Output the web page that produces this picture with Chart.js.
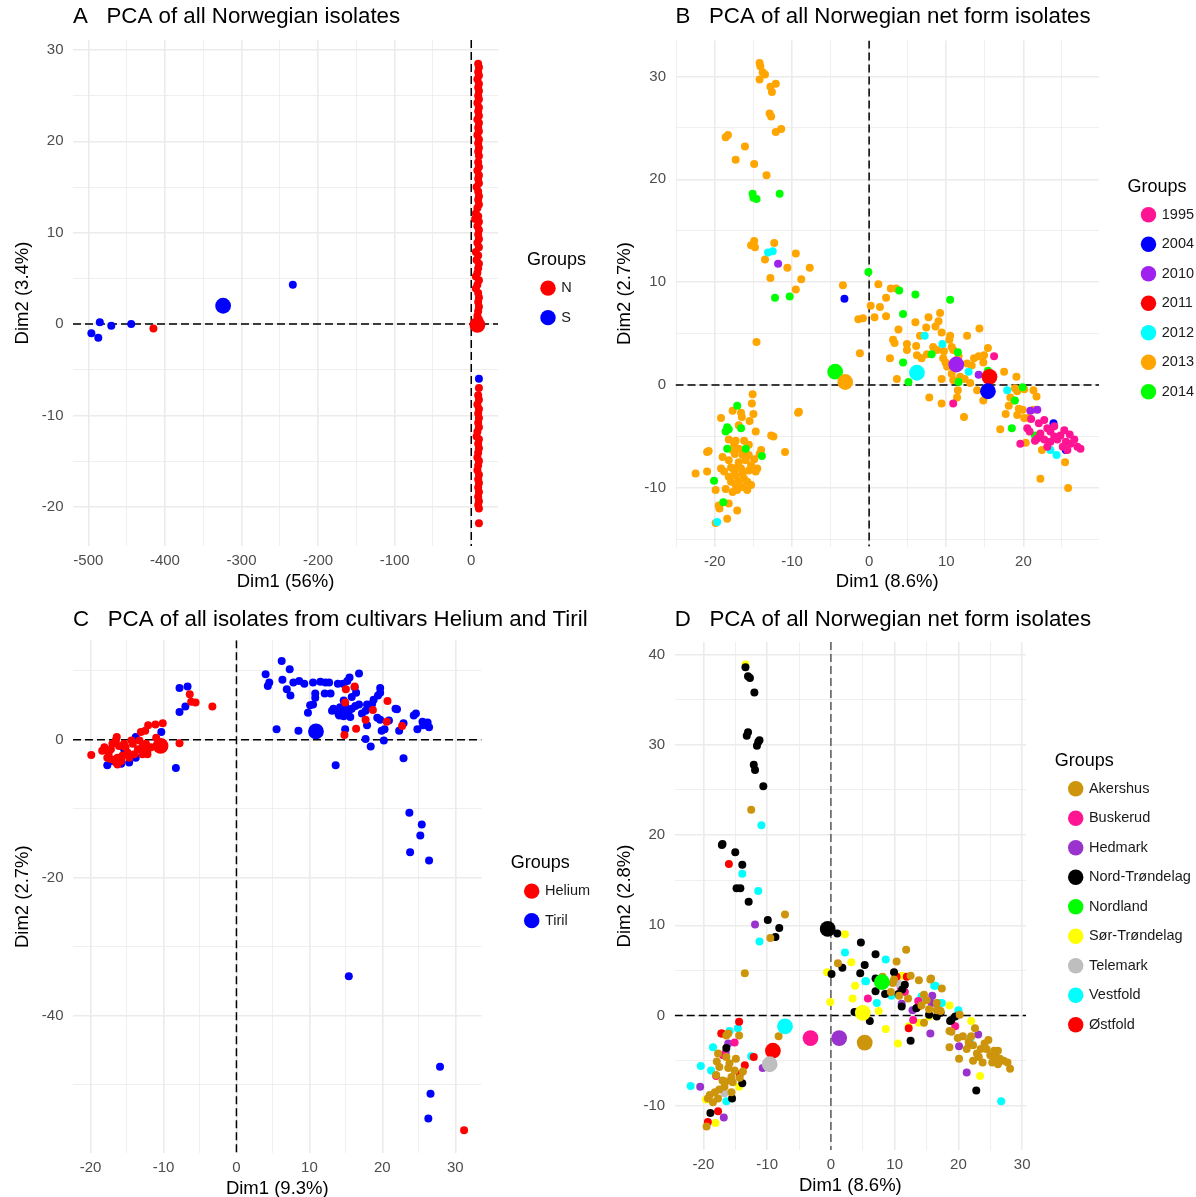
<!DOCTYPE html>
<html><head><meta charset="utf-8">
<script src="https://cdn.jsdelivr.net/npm/chart.js@4.4.1/dist/chart.umd.min.js"></script>
<style>
html,body{margin:0;padding:0;background:#fff;overflow:hidden;width:1196px;height:1197px;position:relative}
canvas{position:absolute;display:block}
</style></head><body>
<canvas id="cA" width="598" height="598" style="left:0px;top:0px"></canvas>
<canvas id="cB" width="598" height="598" style="left:598px;top:0px"></canvas>
<canvas id="cC" width="598" height="599" style="left:0px;top:598px"></canvas>
<canvas id="cD" width="598" height="599" style="left:598px;top:598px"></canvas>
<script>
// ---------------- Panel A data ----------------
const A_GROUPS = ['N', 'S'];
const A_N = [
[9,28.5],[10,28.1],[9,27.6],[10,27.2],[8,26.8],[10,26.3],[9,25.9],[10,25.5],[9,25.0],[10,24.6],[8,24.2],[10,23.7],[9,23.3],[10,22.8],[8,22.4],[10,22.0],[9,21.5],[10,21.1],[8,20.7],[10,20.2],[9,19.8],[10,19.3],[9,18.9],[10,18.4],
[9,17.7],[10,17.2],[8,16.8],[10,16.3],[9,15.9],[10,15.4],[7,15.0],[9,14.5],[10,14.0],[9,13.6],[10,13.1],[8,12.7],[6,12.1],[9,11.8],[5,11.5],[10,11.2],[8,10.7],[10,10.3],[9,9.8],[10,9.3],[8,8.9],[10,8.4],[6,7.9],[9,7.5],[7,7.0],[10,6.6],[9,6.1],[8,5.6],[6,5.2],[10,4.8],[8,4.3],[6,3.9],[9,3.4],[10,2.9],[9,2.4],[10,1.9],[9,1.4],[8,0.9],[10,0.5],
[10,-7.0],[9,-7.8],[10,-8.3],[8,-8.8],[10,-9.3],[9,-9.8],[10,-10.3],[9,-10.8],[10,-11.3],[8,-11.8],[7,-12.3],[10,-12.6],[9,-13.1],[10,-13.6],[9,-14.1],[8,-14.6],[10,-15.0],[9,-15.5],[8,-16.0],[10,-16.5],[9,-17.0],[10,-17.4],[9,-17.9],[10,-18.4],[9,-18.9],[10,-19.4],[9,-19.8],[10,-20.2],[10,-21.8],
[-415,-0.5]
];
const A_S = [[-496,-1.0],[-487,-1.5],[-485,0.2],[-470,-0.2],[-444,0.0],[-233,4.3],[10,-6.0]];
const A_MEANS = [[8,-0.1],[-324,2.0]];
const A_X_MAJOR = [-500,-400,-300,-200,-100,0];
const A_X_MINOR = [-450,-350,-250,-150,-50];
const A_Y_MAJOR = [-20,-10,0,10,20,30];
const A_Y_MINOR = [-15,-5,5,15,25];

// ---------------- Panel B data ----------------
const B_GROUPS = ['1995','2004','2010','2011','2012','2013','2014'];
const B_1995 = [[16.2,2.8],[10.9,-1.8],[20.5,-4.2],[22.0,-3.7],[22.7,-3.4],[23.1,-4.2],[22.2,-4.7],[23.5,-4.5],[24.0,-5.0],[22.7,-5.3],[24.4,-5.3],[24.8,-4.9],[25.3,-4.4],[25.5,-5.5],[26.1,-5.7],[26.6,-5.3],[27.0,-6.0],[27.4,-6.2],[25.1,-6.0],[25.7,-6.3],[23.5,-5.5],[21.8,-5.2],[19.6,-5.7],[23.1,-6.0],[21.0,-3.3],[24.0,-4.0],[26.0,-4.8],[20.8,-4.5],[21.5,-5.4]];
const B_2004 = [[-3.2,8.4],[23.9,-3.7],[25.5,-6.3]];
const B_2010 = [[-11.8,11.8],[14.2,1.0],[20.9,-2.5],[21.8,-2.4]];
const B_2011 = [[15.5,1.0]];
const B_2012 = [[-13.1,12.9],[-12.5,13.0],[7.2,4.8],[9.5,4.0],[12.9,1.3],[17.9,-0.5],[23.5,-6.3],[24.3,-6.8],[-19.7,-13.3]];
const B_2013 = [
[-14.2,31.3],[-14.1,31.0],[-13.8,30.4],[-13.5,30.2],[-14.2,29.7],[-12.8,29.0],[-12.1,29.3],[-12.6,28.5],[-12.9,26.4],[-12.7,26.1],[-12.1,24.6],[-11.4,24.9],[-18.6,24.1],[-18.3,24.3],[-16.1,23.2],[-17.3,21.9],[-14.9,21.5],[-13.3,20.4],
[-15.3,13.6],[-14.9,14.0],[-14.8,13.4],[-12.3,13.8],[-13.5,12.2],[-9.5,12.8],[-10.6,11.4],[-7.7,11.4],[-12.8,10.4],[-8.8,10.3],[-9.5,9.3],
[-14.6,4.2],[-9.2,-2.7],[-1.2,3.1],
[-3.4,9.7],[1.2,9.8],[2.8,9.4],[3.5,9.4],[2.2,8.5],[0.2,7.7],[1.4,7.6],[-1.4,6.4],[-0.8,6.5],[0.7,6.6],[2.2,6.7],
[6.0,6.1],[7.7,6.6],[9.2,7.0],[9.0,6.2],[7.4,5.6],[8.6,5.7],[3.8,5.4],[6.6,4.8],[9.4,5.1],[10.5,4.8],[10.4,4.4],[14.3,5.5],[12.7,4.8],
[3.1,4.4],[3.3,4.1],[4.9,4.0],[6.1,3.8],[4.9,3.4],[8.3,3.7],[8.8,3.4],[9.7,3.3],[10.7,3.7],[10.9,3.4],[11.6,2.8],[6.2,2.9],[6.8,2.6],[7.5,3.0],[2.7,2.6],[9.6,2.6],[9.9,2.2],[13.6,2.6],[14.2,2.8],[14.9,2.9],[15.4,3.6],[14.8,2.2],[12.7,2.1],[13.3,1.9],
[3.6,0.6],[9.4,0.6],[10.1,1.8],[10.7,1.1],[10.9,0.5],[11.8,0.8],[12.4,0.6],[13.1,0.2],[14.0,-0.5],[14.8,-1.5],[11.5,-0.5],[11.4,-1.2],[7.8,-1.2],[9.4,-1.8],[12.3,-3.1],
[17.5,1.3],[19.1,0.8],[18.9,-0.3],[19.2,-0.6],[20.1,-0.4],[21.3,-0.5],[21.7,-1.1],[18.3,-1.2],[18.1,-2.0],[18.8,-1.5],[17.7,-2.8],[19.4,-2.3],[19.9,-2.4],[19.2,-2.9],[20.1,-3.2],[20.7,-3.2],[21.3,-2.4],[17.0,-4.3],[20.3,-5.6],[22.4,-6.3],[25.4,-7.5],[22.2,-9.1],[25.8,-10.0],
[-15.1,-0.9],[-15.2,-1.8],[-17.7,-2.5],[-16.6,-2.7],[-16.5,-3.1],[-15.0,-2.8],[-19.2,-3.2],[-15.5,-3.5],[-9.1,-2.6],[-16.9,-3.9],[-14.7,-4.5],[-12.7,-4.9],[-12.4,-5.0],[-18.2,-5.3],[-17.3,-5.4],[-16.2,-5.4],[-15.6,-5.8],[-17.5,-5.8],[-16.9,-6.2],[-17.4,-6.7],[-16.4,-6.8],[-14.0,-6.3],[-14.2,-6.7],[-20.8,-6.4],[-10.9,-6.5],[-19.0,-7.0],[-18.2,-7.3],[-17.9,-8.0],[-19.2,-8.1],[-16.9,-7.5],[-16.0,-7.3],[-15.3,-7.8],[-14.9,-7.2],[-14.5,-8.1],[-14.7,-8.4],[-15.6,-8.3],[-16.4,-8.6],[-22.5,-8.6],[-21.0,-8.4],[-18.8,-8.4],[-18.2,-8.9],[-17.3,-8.8],[-16.9,-9.3],[-16.2,-9.1],[-15.8,-9.4],[-19.9,-10.2],[-18.6,-10.1],[-17.7,-10.4],[-17.1,-10.2],[-15.8,-10.2],[-15.3,-9.7],[-19.5,-11.7],[-18.2,-11.5],[-19.4,-12.0],[-17.1,-12.2],[-18.4,-13.0],[-19.9,-13.4],[-17.5,-8.3],[-17.1,-8.0],[-16.6,-8.1],[-17.9,-9.4],[-17.3,-9.7],[-16.4,-9.9],[-17.7,-6.3],[-16.2,-6.5],[-15.6,-6.8],[-21.0,-6.5]
];
const B_2014 = [[-15.1,18.6],[-15.0,18.2],[-14.6,18.1],[-11.6,18.6],[-12.2,8.5],[-10.3,8.6],[-0.1,11.0],[3.9,9.2],[6.0,8.8],[10.5,8.3],[4.4,6.9],[11.5,3.2],[4.4,2.2],[5.1,0.3],[11.6,0.3],[15.4,1.4],[19.9,-0.2],[18.9,-1.5],[18.5,-4.2],[21.5,-4.9],[8.1,3.0],[-17.1,-2.0],[-18.4,-4.1],[-18.2,-4.3],[-18.6,-4.5],[-16.6,-4.2],[-18.4,-6.2],[-16.0,-6.2],[-13.9,-6.9],[-20.1,-9.3],[-18.9,-11.4]];
const B_MEANS = [[null,null],[15.4,-0.6],[11.3,2.0],[15.6,0.8],[6.2,1.2],[-3.1,0.3],[-4.4,1.3]];
const B_X_MAJOR = [-20,-10,0,10,20];
const B_X_MINOR = [-25,-15,-5,5,15,25];
const B_Y_MAJOR = [-10,0,10,20,30];
const B_Y_MINOR = [-15,-5,5,15,25];

// ---------------- Panel C data ----------------
const C_GROUPS = ['Helium','Tiril'];
const C_HELIUM = [[-19.9,-2.2],[-6.4,6.6],[-6.2,5.5],[-5.6,5.4],[-3.3,4.8],[-10.1,2.4],[-11.1,2.2],[-12.1,2.1],[-13.1,1.1],[-12.5,1.3],[-11.0,0.3],[-7.8,-0.5],[-16.5,0.0],[-18.1,-1.1],[-18.4,-1.6],[-17.5,-1.9],[-17.0,-0.6],[-16.1,-0.9],[-15.2,-1.1],[-14.2,-0.6],[-13.3,-0.1],[-12.9,-1.1],[-12.2,-1.6],[-14.0,-2.1],[-14.7,-2.6],[-15.6,-2.3],[-16.3,-2.6],[-17.2,-2.8],[-17.7,-2.6],[-16.5,-3.3],[-15.8,-3.1],[-14.9,-1.9],[-13.5,-1.4],[-12.4,-0.6],[-11.7,-1.1],[-12.9,-2.1],[-12.2,-2.1],[-15.4,-0.6],[-14.4,-0.1],[-17.2,-1.4],[-16.4,0.4],[-16.3,-3.6],
[15.0,7.3],[16.2,7.7],[14.9,5.4],[20.7,5.6],[18.7,4.3],[17.7,2.9],[20.6,2.6],[16.4,1.6],[22.7,2.0],[14.8,0.7],[31.2,-56.6]];
const C_TIRIL = [[-7.8,7.5],[-6.7,7.7],[-7.8,4.0],[-7.0,4.8],[-10.3,1.1],[-8.3,-4.1],[-17.7,-3.7],[-15.8,-3.5],[-13.8,-2.6],[-12.2,-1.2],[-13.8,0.4],[-15.4,-1.4],[-17.0,-3.1],[-14.7,-3.3],
[6.2,11.4],[7.3,10.2],[4.0,9.5],[4.5,8.3],[4.3,7.8],[6.3,8.7],[6.9,7.3],[7.4,6.4],[7.8,8.3],[8.6,8.5],[9.3,8.1],[10.5,8.3],[11.5,8.4],[12.2,8.3],[12.7,8.3],[13.9,8.1],[14.6,8.1],[15.2,8.5],[15.5,9.0],[16.8,9.6],[10.8,6.7],[10.8,6.1],[12.1,6.7],[12.9,6.7],[10.5,5.1],[10.1,5.0],[9.8,3.9],[13.1,4.2],[13.8,4.2],[14.2,4.7],[14.9,5.0],[14.5,4.2],[14.1,3.5],[14.7,3.4],[15.4,4.2],[15.8,4.5],[16.3,4.9],[15.6,3.3],[14.7,5.7],[15.8,6.2],[16.4,6.8],[16.2,7.6],[16.8,5.1],[17.2,3.8],[17.7,4.2],[17.9,5.1],[18.4,4.7],[18.8,5.8],[18.6,5.2],[19.7,7.5],[19.7,6.8],[19.4,6.4],[19.3,3.2],[19.7,2.9],[20.9,2.8],[17.9,2.1],[19.9,1.3],[20.3,1.5],[20.2,-0.1],[21.8,4.5],[22.0,4.4],[22.9,2.4],[22.3,1.3],[24.3,3.5],[24.6,3.8],[25.5,2.6],[26.2,2.5],[26.4,1.8],[24.8,1.5],[25.6,2.1],[5.5,1.5],[8.5,1.3],[14.9,1.5],[17.7,0.1],[18.4,-1.0],[13.6,-3.7],[22.9,-2.7],[14.0,3.7],[13.3,4.5],
[23.7,-10.6],[25.4,-12.3],[25.2,-13.9],[23.8,-16.3],[26.4,-17.5],[15.4,-34.3],[27.9,-47.4],[26.6,-51.3],[26.3,-54.9]];
const C_MEANS = [[-10.4,-0.9],[10.9,1.2]];
const C_X_MAJOR = [-20,-10,0,10,20,30];
const C_X_MINOR = [-15,-5,5,15,25];
const C_Y_MAJOR = [-40,-20,0];
const C_Y_MINOR = [-50,-30,-10,10];

// ---------------- Panel D data ----------------
const D_GROUPS = ['Akershus','Buskerud','Hedmark','Nord-Trøndelag','Nordland','Sør-Trøndelag','Telemark','Vestfold','Østfold'];
const D_AKERSHUS = [[-12.5,22.8],[-7.2,11.2],[-9.5,8.6],[-13.5,4.7],[1.1,5.8],[10.3,6.0],[11.8,7.3],[9.7,3.6],[13.8,3.9],[15.7,4.1],[17.4,3.0],[9.4,2.6],[10.7,2.2],[12.1,1.9],[14.6,2.3],[14.2,1.1],[15.4,0.7],[16.7,0.7],[8.1,4.3],[9.9,4.0],[12.5,4.4],[15.6,4.0],[16.6,0.6],[14.6,-0.8],[15.0,1.7],[16.6,1.4],[17.2,0.5],[18.6,-1.7],[20.2,0.1],[18.9,-1.8],[19.9,-2.5],[20.7,-2.3],[21.6,-2.9],[22.6,-1.4],[22.3,-3.3],[22.9,-4.2],[23.5,-3.7],[24.1,-3.1],[24.7,-2.7],[24.4,-3.7],[25.0,-4.4],[25.6,-3.9],[26.2,-3.9],[26.5,-4.8],[27.1,-5.0],[27.7,-5.2],[28.1,-5.9],[26.2,-5.4],[25.3,-5.2],[23.8,-5.2],[23.2,-4.6],[22.3,-5.0],[20.1,-4.8],[18.6,-3.5],[25.9,-4.6],[22.0,-2.3],[21.3,-3.7],
[-16.1,-2.0],[-16.4,-2.2],[-14.4,-2.2],[-17.7,-4.2],[-17.9,-5.1],[-16.4,-4.6],[-15.9,-5.3],[-14.9,-4.8],[-16.1,-5.8],[-15.1,-6.1],[-15.6,-6.8],[-16.5,-7.3],[-13.8,-6.2],[-14.3,-6.9],[-15.4,-7.4],[-16.7,-7.9],[-17.5,-8.2],[-18.2,-8.5],[-19.0,-8.8],[-19.3,-9.2],[-18.5,-9.6],[-17.7,-9.2],[-15.6,-8.5],[-17.0,-7.2],[-18.0,-6.6],[-17.5,-5.7],[-19.5,-12.3],[-8.2,-2.3]];
const D_BUSKERUD = [[11.6,2.6],[5.8,1.9],[13.7,1.6],[19.5,-1.2],[12.9,-0.5],[-15.1,-3.0],[-18.0,-6.7],[11.0,3.0],[-16.9,-4.4]];
const D_HEDMARK = [[-11.9,10.1],[11.1,1.3],[15.9,2.2],[15.6,-2.0],[15.8,1.4],[20.1,-3.4],[21.3,-6.3],[23.1,-2.1],[12.8,0.6],[-16.1,-3.1],[-20.5,-7.9],[-16.8,-11.3],[-10.7,-5.8],[-16.5,-4.1]];
const D_NORDTRONDELAG = [[-13.4,38.6],[-13.0,37.6],[-12.7,37.4],[-12.0,35.8],[-13.0,31.4],[-13.2,31.0],[-11.2,30.5],[-11.6,29.9],[-11.4,30.3],[-12.1,27.8],[-11.9,27.2],[-10.6,25.4],[-17.1,18.9],[-17.0,19.0],[-15.0,18.1],[-13.9,16.7],[-14.8,14.1],[-14.2,14.1],[-12.9,12.6],[-9.9,10.6],[-8.1,9.7],[-8.7,8.7],
[1.0,9.1],[4.7,8.1],[7.0,6.8],[1.8,5.3],[0.1,4.6],[5.3,5.6],[4.6,4.7],[9.9,4.8],[7.0,4.1],[7.9,3.6],[11.6,3.4],[11.2,2.9],[7.0,2.7],[8.5,2.4],[10.6,2.4],[3.7,0.4],[6.1,-0.6],[11.1,1.0],[12.5,-2.8],[16.6,-0.1],[18.9,-0.5],[19.5,-0.1],[22.8,-8.3],[13.4,0.8],[15.4,0.1],[17.2,0.3],[18.7,-0.6],
[-16.4,-3.6],[-13.9,-7.5],[-15.5,-9.2],[-18.9,-10.8]];
const D_NORDLAND = [[8.0,3.7]];
const D_SORTRONDELAG = [[-13.4,38.9],[2.2,9.0],[3.2,5.9],[-0.6,4.8],[11.2,4.4],[3.8,3.3],[3.4,1.9],[-0.1,1.5],[18.6,1.1],[7.5,0.5],[8.6,-1.5],[10.5,-3.1],[12.2,-1.2],[13.8,-0.8],[22.0,-0.6],[23.4,-6.7],[15.4,-0.1],[-14.4,-7.9],[-19.6,-9.3],[-18.1,-11.9]];
const D_TELEMARK = [[10.7,3.5],[-16.7,-8.6]];
const D_VESTFOLD = [[-10.9,21.1],[-13.9,15.7],[-11.4,13.8],[-11.2,8.2],[2.2,7.0],[8.6,6.2],[5.4,3.8],[16.2,3.3],[14.2,2.1],[17.4,1.4],[20.0,0.6],[5.5,3.8],[7.2,1.4],[9.5,2.2],[14.3,2.0],[16.4,3.3],[16.9,1.4],[21.9,-2.5],[26.7,-9.5],[-15.9,-1.7],[-14.6,-1.4],[-18.5,-3.5],[-12.5,-4.5],[-20.4,-5.6],[-22.0,-7.8],[-18.8,-6.1],[-16.4,-9.5]];
const D_OSTFOLD = [[-16.0,16.8],[11.9,4.3],[13.7,1.0],[12.2,-1.4],[21.7,-3.1],[10.3,4.3],[-14.4,-0.7],[-17.2,-2.0],[-12.1,-4.6],[-13.5,-5.5],[-14.3,-6.5],[-17.7,-10.6],[-19.3,-11.8],[-17.1,-2.0]];
const D_MEANS = [[5.3,-3.0],[-3.2,-2.5],[1.3,-2.5],[-0.5,9.6],[8.0,3.7],[5.0,0.3],[-9.6,-5.4],[-7.2,-1.2],[-9.1,-3.9]];
const D_X_MAJOR = [-20,-10,0,10,20,30];
const D_X_MINOR = [-15,-5,5,15,25];
const D_Y_MAJOR = [-10,0,10,20,30,40];
const D_Y_MINOR = [-5,5,15,25,35];

const ZERO = 0;

// ---------------- styling / drawing ----------------
Chart.defaults.font.family = "'Liberation Sans', Arial, sans-serif";
Chart.defaults.color = '#4D4D4D';
Chart.defaults.animation = false;

const zeroLines = {
  id: 'zeroLines',
  beforeDatasetsDraw(chart, args, opts) {
    const {ctx, chartArea: ca, scales: {x, y}} = chart;
    const px = x.getPixelForValue(ZERO), py = y.getPixelForValue(ZERO);
    ctx.save();
    ctx.beginPath(); ctx.rect(ca.left, ca.top, ca.right - ca.left, ca.bottom - ca.top); ctx.clip();
    ctx.lineWidth = 1.5; ctx.setLineDash([8, 4]);
    ctx.strokeStyle = opts.hColor || '#000';
    ctx.beginPath(); ctx.moveTo(ca.left, py); ctx.lineTo(ca.right, py); ctx.stroke();
    ctx.strokeStyle = opts.vColor || '#000';
    ctx.beginPath(); ctx.moveTo(px, ca.top); ctx.lineTo(px, ca.bottom); ctx.stroke();
    ctx.restore();
  }
};
const boxPlacer = {
  id: 'boxPlacer',
  afterLayout(chart, args, opts) {
    const t = chart.titleBlock;
    if (t) { t.left = chart.chartArea.left; t.right = chart.width * 3; t.width = t.right - t.left; }
    const l = chart.legend;
    if (l) { l.left = opts.legendLeft; l.right = chart.width + 40; l.width = l.right - l.left;
             l.top = opts.legendDy; l.bottom = chart.height + opts.legendDy; l.height = chart.height; }
  }
};

function ds(label, pts, color, order, r, isMean) {
  return {label, data: pts.filter(p => p[0] !== null).map(p => ({x: p[0], y: p[1]})),
    backgroundColor: color, borderColor: color, pointRadius: r, pointHoverRadius: r,
    pointBorderWidth: 0, borderWidth: 0, pointStyle: 'circle', showLine: false, order, isMean};
}
function scaleCfg(axis, lim, maj, min, fitSize, titleText, titlePad, tickPad) {
  const all = maj.concat(min).sort((a, b) => a - b);
  return {
    type: 'linear', position: axis === 'x' ? 'bottom' : 'left', min: lim[0], max: lim[1],
    afterBuildTicks: s => { s.ticks = all.map(v => ({value: v})); },
    afterFit: s => { if (axis === 'x') s.height = fitSize; else s.width = fitSize; },
    ticks: {autoSkip: false, padding: tickPad, maxRotation: 0, minRotation: 0, font: {size: 15}, color: '#4D4D4D',
      callback: v => maj.includes(v) ? String(v) : ''},
    grid: {color: '#EBEBEB', lineWidth: c => (c.tick && maj.includes(c.tick.value)) ? 1.6 : 0.8, drawTicks: false},
    border: {display: false},
    title: {display: true, text: titleText, color: '#000', font: {size: 18.5}, padding: titlePad}
  };
}
function makePanel(id, p) {
  const cv = document.getElementById(id);
  const W = cv.width, H = cv.height;
  const datasets = [];
  p.groups.forEach((g, i) => datasets.push(ds(g, p.series[i], p.colors[i], p.drawOrder[i], 4, false)));
  p.groups.forEach((g, i) => { if (p.means[i][0] !== null) datasets.push(ds(g + ' mean', [p.means[i]], p.colors[i], -20 + i, 7.9, true)); });
  new Chart(cv, {
    type: 'scatter',
    data: {datasets},
    options: {
      responsive: false, devicePixelRatio: 1, animation: false, events: [],
      layout: {padding: {left: 0, top: 0, right: W - p.area.right, bottom: 0}},
      scales: {
        x: scaleCfg('x', p.xlim, p.xMaj, p.xMin, H - p.area.bottom, p.xTitle, {top: 0, bottom: p.xTitlePad}, 6),
        y: scaleCfg('y', p.ylim, p.yMaj, p.yMin, p.area.left, p.yTitle, {top: p.yTitlePad, bottom: 0}, 9.5)
      },
      plugins: {
        title: {display: true, text: p.title, align: 'start', color: '#000', font: {size: 22.3, weight: 'normal'},
          padding: {top: p.titleTop, bottom: p.area.top - p.titleTop - 26.8}},
        legend: {display: true, position: 'chartArea', align: 'center',
          title: {display: true, text: 'Groups', position: 'start', color: '#000', font: {size: 18, lineHeight: 0.8}, padding: 0},
          labels: {usePointStyle: true, pointStyle: 'circle', boxWidth: 12, boxHeight: 10.9, padding: 15, color: '#1A1A1A',
            font: {size: 14.5},
            filter: (item, data) => !data.datasets[item.datasetIndex].isMean,
            sort: (a, b) => a.datasetIndex - b.datasetIndex}},
        tooltip: {enabled: false},
        zeroLines: {hColor: '#000', vColor: p.vColor || '#000'},
        boxPlacer: {legendLeft: p.legendLeft, legendDy: p.legendDy}
      }
    },
    plugins: [zeroLines, boxPlacer]
  });
}

makePanel('cA', {
  title: 'A   PCA of all Norwegian isolates', xTitle: 'Dim1 (56%)', yTitle: 'Dim2 (3.4%)',
  groups: A_GROUPS, series: [A_N, A_S], means: A_MEANS, colors: ['#FF0000', '#0000FF'], drawOrder: [2, 1],
  xlim: [-520, 34.9], ylim: [-24.3, 31.1], xMaj: A_X_MAJOR, xMin: A_X_MINOR, yMaj: A_Y_MAJOR, yMin: A_Y_MINOR,
  area: {left: 73, right: 498, top: 40, bottom: 546}, titleTop: 3.6, xTitlePad: 4.9, yTitlePad: 11.9,
  legendLeft: 527, legendDy: -3.3
});
makePanel('cB', {
  title: 'B   PCA of all Norwegian net form isolates', xTitle: 'Dim1 (8.6%)', yTitle: 'Dim2 (2.7%)',
  groups: B_GROUPS, series: [B_1995, B_2004, B_2010, B_2011, B_2012, B_2013, B_2014], means: B_MEANS,
  colors: ['#FF1493', '#0000FF', '#A020F0', '#FF0000', '#00FFFF', '#FFA500', '#00FF00'], drawOrder: [1, 2, 3, 4, 5, 10, 6],
  xlim: [-25.1, 29.8], ylim: [-15.7, 33.5], xMaj: B_X_MAJOR, xMin: B_X_MINOR, yMaj: B_Y_MAJOR, yMin: B_Y_MINOR,
  area: {left: 77.5, right: 501, top: 40.5, bottom: 546.6}, titleTop: 3.6, xTitlePad: 4.9, yTitlePad: 15.9,
  legendLeft: 529.5, legendDy: -3
});
makePanel('cC', {
  title: 'C   PCA of all isolates from cultivars Helium and Tiril', xTitle: 'Dim1 (9.3%)', yTitle: 'Dim2 (2.7%)',
  groups: C_GROUPS, series: [C_HELIUM, C_TIRIL], means: C_MEANS, colors: ['#FF0000', '#0000FF'], drawOrder: [1, 2],
  xlim: [-22.4, 33.6], ylim: [-59.9, 14.4], xMaj: C_X_MAJOR, xMin: C_X_MINOR, yMaj: C_Y_MAJOR, yMin: C_Y_MINOR,
  area: {left: 73, right: 481.6, top: 42.4, bottom: 555}, titleTop: 8.6, xTitlePad: -3.1, yTitlePad: 11.9,
  legendLeft: 510.7, legendDy: 1.2
});
makePanel('cD', {
  title: 'D   PCA of all Norwegian net form isolates', xTitle: 'Dim1 (8.6%)', yTitle: 'Dim2 (2.8%)',
  groups: D_GROUPS, series: [D_AKERSHUS, D_BUSKERUD, D_HEDMARK, D_NORDTRONDELAG, D_NORDLAND, D_SORTRONDELAG, D_TELEMARK, D_VESTFOLD, D_OSTFOLD],
  means: D_MEANS, colors: ['#CD950C', '#FF1493', '#9A32CD', '#000000', '#00FF00', '#FFFF00', '#BEBEBE', '#00FFFF', '#FF0000'],
  drawOrder: [2, 5, 7, 3, 1, 8, 4, 9, 6],
  xlim: [-24.5, 30.6], ylim: [-14.9, 41.4], xMaj: D_X_MAJOR, xMin: D_X_MINOR, yMaj: D_Y_MAJOR, yMin: D_Y_MINOR,
  area: {left: 76.7, right: 428, top: 44, bottom: 552}, titleTop: 8.6, xTitlePad: -0.1, yTitlePad: 15.9,
  legendLeft: 456.7, legendDy: 2, vColor: '#5A5A5A'
});
</script>
</body></html>
